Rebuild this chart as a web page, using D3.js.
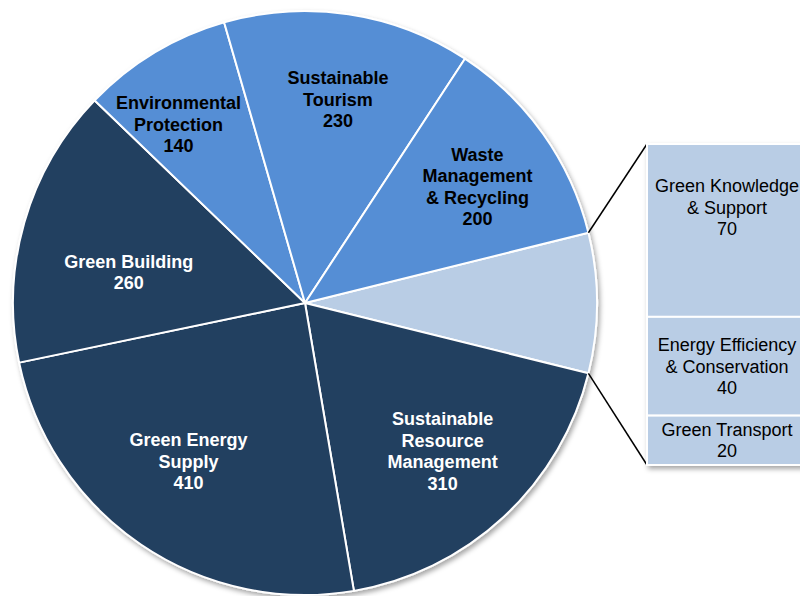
<!DOCTYPE html>
<html><head><meta charset="utf-8">
<script src="https://cdn.jsdelivr.net/npm/d3@7"></script>
<style>html,body{margin:0;padding:0;background:#fff;overflow:hidden}</style>
</head><body>
<svg id="chart" width="800" height="596"></svg>
<script>
// ---- data ----
const pieCategories = ["Other", "Sustainable\nResource\nManagement", "Green Energy\nSupply", "Green Building", "Environmental\nProtection", "Sustainable\nTourism", "Waste\nManagement\n& Recycling"];
const barCategories = ["Green Knowledge\n& Support", "Energy Efficiency\n& Conservation", "Green Transport"];
const barValues = [70, 40, 20];
const pieValues = [d3.sum(barValues), 310, 410, 260, 140, 230, 200];
const sliceTone = ["light", "dark", "dark", "dark", "medium", "medium", "medium"];

// ---- layout ----
const W = 800, H = 596;
const cx = 305, cy = 303, R = 292;
const colors = {dark: "#243F60", medium: "#558ED5", light: "#B9CDE5"};
const textColors = {dark: "#ffffff", medium: "#000000", light: "#000000"};
// label placement (angle offset in degrees, radius fraction)
const labelAdj = [[0, 0], [0, 0.693], [2, 0.674], [-6.2, 0.613], [-4.3, 0.749], [0.6, 0.707], [1.4, 0.712]];
const barLabelShift = [-23, 0, 0];

const svg = d3.select("#chart");
const defs = svg.append("defs");
const f = defs.append("filter").attr("id", "shadow").attr("x", "-10%").attr("y", "-10%").attr("width", "130%").attr("height", "130%");
f.append("feDropShadow").attr("dx", 2).attr("dy", 3).attr("stdDeviation", 2.5).attr("flood-color", "#000").attr("flood-opacity", 0.35);

const total = d3.sum(pieValues);
const otherSpan = pieValues[0] / total * 2 * Math.PI;
const start = Math.PI / 2 - otherSpan / 2;

const pie = d3.pie().sort(null).value(d => d)
  .startAngle(start).endAngle(start + 2 * Math.PI);
const arcs = pie(pieValues);
const arc = d3.arc().innerRadius(0).outerRadius(R);

const g = svg.append("g").attr("transform", `translate(${cx},${cy})`);
g.append("g").attr("filter", "url(#shadow)")
  .selectAll("path").data(arcs).join("path")
  .attr("d", arc)
  .attr("fill", (d, i) => colors[sliceTone[i]])
  .attr("stroke", "#fff").attr("stroke-width", 2).attr("stroke-linejoin", "round");

const fontFam = "'Liberation Sans', Arial, sans-serif";
const fs = 18, lh = 21.5;

arcs.forEach((a, i) => {
  if (i === 0) return;
  const ang = (a.startAngle + a.endAngle) / 2 + labelAdj[i][0] * Math.PI / 180;
  const r = labelAdj[i][1] * R;
  const x = r * Math.sin(ang), y = -r * Math.cos(ang);
  const lines = pieCategories[i].split("\n").concat([String(pieValues[i])]);
  const t = g.append("text").attr("text-anchor", "middle")
    .attr("font-family", fontFam).attr("font-weight", "bold").attr("font-size", fs)
    .attr("fill", textColors[sliceTone[i]]);
  const y0 = y - (lines.length - 1) * lh / 2;
  lines.forEach((l, k) => t.append("tspan").attr("x", x).attr("y", y0 + k * lh).attr("dy", "0.35em").text(l));
});

// ---- bar of pie ----
const barX = 647, barW = 160, barTop = 144, barBottom = 465;
const y = d3.scaleLinear().domain([0, d3.sum(barValues)]).range([barTop, barBottom]);
const cum = [0];
barValues.forEach(v => cum.push(cum[cum.length - 1] + v));

// connector lines from "other" slice edges
const o = arcs[0];
const p1 = [cx + R * Math.sin(o.startAngle), cy - R * Math.cos(o.startAngle)];
const p2 = [cx + R * Math.sin(o.endAngle), cy - R * Math.cos(o.endAngle)];
svg.append("line").attr("x1", p1[0]).attr("y1", p1[1]).attr("x2", barX).attr("y2", y(0))
  .attr("stroke", "#000").attr("stroke-width", 1.5);
svg.append("line").attr("x1", p2[0]).attr("y1", p2[1]).attr("x2", barX).attr("y2", y(cum[cum.length - 1]))
  .attr("stroke", "#000").attr("stroke-width", 1.5);

const bg = svg.append("g").attr("filter", "url(#shadow)");
bg.selectAll("rect").data(barValues).join("rect")
  .attr("x", barX).attr("y", (d, i) => y(cum[i]))
  .attr("width", barW).attr("height", (d, i) => y(cum[i + 1]) - y(cum[i]))
  .attr("fill", colors.light).attr("stroke", "#fff").attr("stroke-width", 2);

barValues.forEach((v, i) => {
  const mid = (y(cum[i]) + y(cum[i + 1])) / 2 + barLabelShift[i];
  const lines = barCategories[i].split("\n").concat([String(v)]);
  const t = svg.append("text").attr("text-anchor", "middle")
    .attr("font-family", fontFam).attr("font-size", fs).attr("fill", "#000");
  const y0 = mid - (lines.length - 1) * lh / 2;
  lines.forEach((l, k) => t.append("tspan").attr("x", barX + 80).attr("y", y0 + k * lh).attr("dy", "0.35em").text(l));
});
</script>
</body></html>
